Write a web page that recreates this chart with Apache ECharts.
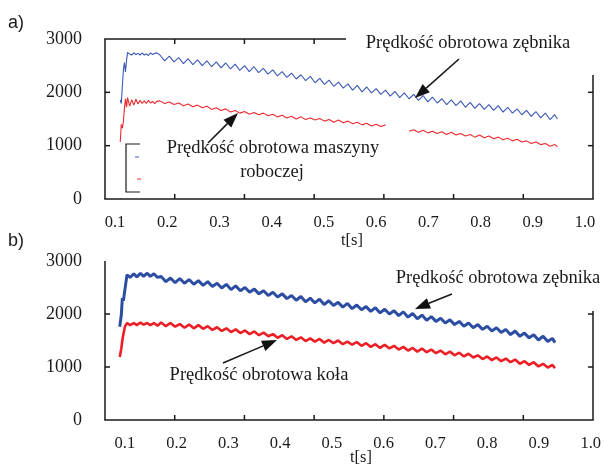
<!DOCTYPE html>
<html>
<head>
<meta charset="utf-8">
<script src="https://cdn.jsdelivr.net/npm/echarts@6/dist/echarts.min.js"></script>
<style>
  html, body { margin: 0; padding: 0; background: #fff; }
  #chart { width: 604px; height: 466px; }
</style>
</head>
<body>
<div id="chart"></div>
<script>
// Panel a) – time base [s]
const timeA = [
  0.110, 0.112, 0.114, 0.116, 0.118, 0.120, 0.122, 0.124, 0.128, 0.132, 0.136,
  0.140, 0.144, 0.148, 0.152, 0.156, 0.160, 0.164, 0.168, 0.172, 0.176, 0.180,
  0.186, 0.195, 0.204, 0.213, 0.222, 0.231, 0.240, 0.249, 0.258, 0.267, 0.276,
  0.285, 0.294, 0.303, 0.312, 0.321, 0.330, 0.339, 0.348, 0.357, 0.366, 0.375,
  0.384, 0.393, 0.402, 0.411, 0.420, 0.429, 0.438, 0.447, 0.456, 0.465, 0.474,
  0.483, 0.492, 0.501, 0.510, 0.519, 0.528, 0.537, 0.546, 0.555, 0.564, 0.573,
  0.582, 0.591, 0.600, 0.609, 0.618, 0.627, 0.636, 0.645, 0.654, 0.663, 0.672,
  0.681, 0.690, 0.699, 0.708, 0.717, 0.726, 0.735, 0.744, 0.753, 0.762, 0.771,
  0.780, 0.789, 0.798, 0.807, 0.816, 0.825, 0.834, 0.843, 0.852, 0.861, 0.870,
  0.879, 0.888, 0.897, 0.906, 0.915, 0.924, 0.933, 0.942, 0.947
];
// Pinion speed [rpm], panel a)
const pinionA = [
  1860, 1790, 2120, 2420, 2560, 2380, 2600, 2750, 2720, 2700, 2740,
  2710, 2730, 2700, 2740, 2700, 2720, 2690, 2740, 2710, 2730, 2740,
  2700, 2590, 2680, 2570, 2650, 2540, 2630, 2520, 2610, 2500, 2590,
  2480, 2570, 2460, 2550, 2440, 2530, 2410, 2500, 2390, 2480, 2370,
  2450, 2340, 2420, 2310, 2390, 2280, 2360, 2250, 2330, 2220, 2300,
  2180, 2260, 2150, 2230, 2110, 2190, 2080, 2160, 2040, 2130, 2010,
  2100, 1990, 2070, 1960, 2040, 1930, 2020, 1900, 1990, 1880, 1960,
  1850, 1940, 1820, 1910, 1800, 1880, 1770, 1860, 1750, 1840, 1720,
  1810, 1700, 1790, 1680, 1770, 1660, 1750, 1630, 1720, 1610, 1690,
  1580, 1660, 1550, 1640, 1520, 1610, 1490, 1580, 1500
];
// Working machine speed [rpm], panel a) (null = missing samples)
const machineA = [
  1070, 1400, 1330, 1450, 1700, 1880, 1720, 1900, 1740, 1860, 1760,
  1870, 1780, 1850, 1790, 1840, 1790, 1850, 1800, 1830, 1790, 1830,
  1840, 1790, 1820, 1770, 1800, 1750, 1780, 1730, 1760, 1710, 1740,
  1680, 1710, 1660, 1690, 1630, 1660, 1610, 1640, 1590, 1620, 1580,
  1610, 1560, 1590, 1540, 1570, 1520, 1550, 1500, 1540, 1490, 1520,
  1480, 1510, 1460, 1490, 1440, 1480, 1430, 1460, 1410, 1440, 1390,
  1420, 1370, 1400, 1360, 1390, null, null, null, null, 1270, 1300,
  1250, 1290, 1240, 1270, 1230, 1260, 1210, 1250, 1200, 1230, 1180,
  1210, 1160, 1200, 1150, 1180, 1130, 1160, 1110, 1140, 1090, 1120,
  1070, 1090, 1040, 1070, 1020, 1040, 990, 1020, 980
];

// Panel b) – time base [s]
const timeB = [
  0.090, 0.093, 0.095, 0.097, 0.100, 0.104, 0.110, 0.117, 0.123, 0.130,
  0.136, 0.143, 0.149, 0.156, 0.163,
  0.170, 0.179, 0.188, 0.197, 0.206, 0.215, 0.224, 0.233, 0.242, 0.251,
  0.260, 0.269, 0.278, 0.287, 0.296, 0.305, 0.314, 0.323, 0.332, 0.341,
  0.350, 0.359, 0.368, 0.377, 0.386, 0.395, 0.404, 0.413, 0.422, 0.431,
  0.440, 0.449, 0.458, 0.467, 0.476, 0.485, 0.494, 0.503, 0.512, 0.521,
  0.530, 0.539, 0.548, 0.557, 0.566, 0.575, 0.584, 0.593, 0.602, 0.611,
  0.620, 0.629, 0.638, 0.647, 0.656, 0.665, 0.674, 0.683, 0.692, 0.701,
  0.710, 0.719, 0.728, 0.737, 0.746, 0.755, 0.764, 0.773, 0.782, 0.791,
  0.800, 0.809, 0.818, 0.827, 0.836, 0.845, 0.854, 0.863, 0.872, 0.881,
  0.890, 0.899, 0.908, 0.917, 0.926, 0.931
];
// Pinion speed [rpm], panel b)
const pinionB = [
  1760, 1980, 2300, 2250, 2460, 2740, 2690, 2760, 2700, 2770,
  2710, 2770, 2710, 2760, 2690,
  2710, 2610, 2680, 2590, 2670, 2580, 2650, 2560, 2630, 2540,
  2610, 2520, 2580, 2490, 2560, 2460, 2530, 2440, 2500, 2410,
  2470, 2380, 2440, 2350, 2410, 2320, 2380, 2290, 2350, 2260,
  2330, 2230, 2300, 2210, 2280, 2180, 2250, 2160, 2220, 2130,
  2200, 2100, 2170, 2080, 2140, 2050, 2120, 2020, 2090, 2000,
  2060, 1970, 2040, 1940, 2010, 1910, 1980, 1880, 1950, 1860,
  1920, 1830, 1890, 1800, 1860, 1770, 1830, 1740, 1800, 1710,
  1770, 1680, 1740, 1650, 1710, 1610, 1680, 1580, 1640, 1550,
  1610, 1510, 1580, 1480, 1540, 1460
];
// Wheel speed [rpm], panel b)
const wheelB = [
  1190, 1350, 1500, 1620, 1760, 1830, 1790, 1830, 1790, 1840,
  1800, 1830, 1790, 1830, 1780,
  1840, 1770, 1830, 1760, 1810, 1740, 1800, 1730, 1790, 1720,
  1770, 1700, 1750, 1680, 1730, 1660, 1710, 1640, 1690, 1620,
  1670, 1600, 1650, 1580, 1620, 1550, 1600, 1530, 1580, 1510,
  1560, 1490, 1540, 1480, 1530, 1460, 1510, 1450, 1500, 1430,
  1480, 1420, 1470, 1400, 1450, 1380, 1430, 1360, 1420, 1350,
  1400, 1330, 1380, 1310, 1360, 1290, 1350, 1280, 1330, 1260,
  1310, 1240, 1290, 1220, 1270, 1200, 1250, 1180, 1220, 1150,
  1200, 1130, 1180, 1110, 1160, 1090, 1140, 1060, 1110, 1040,
  1090, 1010, 1060, 990, 1040, 980
];

// Axis tick labels
const xTickLabels = [0.1, 0.2, 0.3, 0.4, 0.5, 0.6, 0.7, 0.8, 0.9, 1.0];
// Frame tick marks: 7 equal divisions along x, rpm levels along y
const xTickDivisions = 7;
const yTickMarks = [1000, 2000];

const SERIF = '"Liberation Serif", "Times New Roman", serif';
const SANS = '"Liberation Sans", Arial, sans-serif';
const INK = '#1a1a1a';
const BLUE_A = '#3a5ab4';
const RED_A = '#ec2a2e';
const BLUE_B = '#2c4ea2';
const RED_B = '#ec1f26';

// plot rectangles of the two panels
const GRID_A = { left: 105, top: 39, width: 488, height: 160 };
const GRID_B = { left: 105, top: 261, width: 488, height: 159 };
const Y_MAX = 3000;

const pairs = (t, v) => t.map((x, i) => [x, v[i]]);

function mainX(grid, min, max) {
  return {
    gridIndex: grid, type: 'value', position: 'bottom', min, max,
    axisLine: { show: false, onZero: false },
    axisTick: { show: false },
    splitLine: { show: false },
    axisLabel: {
      show: true,
      customValues: xTickLabels.slice(),
      formatter: v => v.toFixed(1),
      fontFamily: SERIF, fontSize: 16.5, color: INK, margin: 15
    }
  };
}
function yAx(grid, padTop) {
  return {
    gridIndex: grid, type: 'value', position: 'left', min: 0, max: Y_MAX, interval: 1000,
    axisLine: { show: false, onZero: false },
    axisTick: { show: false },
    splitLine: { show: false },
    axisLabel: {
      show: true,
      formatter: v => String(v),
      fontFamily: SERIF, fontSize: 18, color: INK, margin: 23,
      padding: [padTop, 0, 0, 0]
    }
  };
}
function line(xi, yi, data, color, width) {
  return {
    type: 'line', xAxisIndex: xi, yAxisIndex: yi, data,
    showSymbol: false, symbol: 'none', connectNulls: false,
    lineStyle: { color, width }, itemStyle: { color }
  };
}

// ---- frame, tick marks and annotations (upper layer) ----
// rectangles are used for the frame strokes so they stay crisp
const bar = (x, y, w, h) => ({
  type: 'rect', zlevel: 1, z: 10, shape: { x, y, width: w, height: h },
  style: { fill: INK }
});
const hSeg = (x1, x2, y) => bar(Math.min(x1, x2), y - 0.75, Math.abs(x2 - x1), 1.5);
const vSeg = (x, y1, y2) => bar(x - 0.75, Math.min(y1, y2), 1.5, Math.abs(y2 - y1));

function frame(g, withTop) {
  const x0 = g.left, x1 = g.left + g.width;
  const y0 = g.top + g.height, y1 = g.top;
  const els = [hSeg(x0 - 0.75, x1 + 0.75, y0), vSeg(x0, y0, y1), vSeg(x1, y0, y1)];
  if (withTop) els.push(hSeg(x0 - 0.75, x1 + 0.75, y1));
  for (let k = 1; k < xTickDivisions; k++) {
    const x = x0 + g.width * k / xTickDivisions;
    els.push(vSeg(x, y0, y0 - 5));
    if (withTop) els.push(vSeg(x, y1, y1 + 5));
  }
  yTickMarks.forEach(v => {
    const y = y0 - g.height * v / Y_MAX;
    els.push(hSeg(x0, x0 + 5, y));
    els.push(hSeg(x1, x1 - 5, y));
  });
  return els;
}

function arrow(x1, y1, x2, y2) {
  const dx = x2 - x1, dy = y2 - y1, len = Math.hypot(dx, dy);
  const ux = dx / len, uy = dy / len, hl = 15, hw = 5.5;
  const bx = x2 - ux * hl, by = y2 - uy * hl;
  return [
    { type: 'line', zlevel: 1, z: 40, shape: { x1, y1, x2: bx, y2: by }, style: { stroke: INK, lineWidth: 1.6 } },
    { type: 'polygon', zlevel: 1, z: 40, shape: { points: [[x2, y2], [bx - uy * hw, by + ux * hw], [bx + uy * hw, by - ux * hw]] }, style: { fill: '#111' } }
  ];
}
function label(text, x, y, size, family, align) {
  return {
    type: 'text', zlevel: 1, z: 40, x, y,
    style: { text, fill: INK, font: `${size}px ${family}`, textAlign: align || 'center', textVerticalAlign: 'middle' }
  };
}

const chart = echarts.init(document.getElementById('chart'), null, { renderer: 'canvas' });

chart.setOption({
  animation: false,
  grid: [GRID_A, GRID_B].map(g => Object.assign({}, g)),
  xAxis: [mainX(0, 0.0808, 1.0153), mainX(1, 0.0615, 1.0006)],
  yAxis: [yAx(0, 7), yAx(1, 5)],
  series: [
    line(0, 0, pairs(timeA, pinionA), BLUE_A, 1.1),
    line(0, 0, pairs(timeA, machineA), RED_A, 1.1),
    line(1, 1, pairs(timeB, pinionB), BLUE_B, 3),
    line(1, 1, pairs(timeB, wheelB), RED_B, 2.6)
  ],
  graphic: {
    elements: [
      ...frame(GRID_A, true),
      ...frame(GRID_B, false),
      // background boxes of the annotations
      { type: 'rect', zlevel: 1, z: 20, shape: { x: 346, y: 22, width: 258, height: 53 }, style: { fill: '#fff' } },
      { type: 'rect', zlevel: 1, z: 20, shape: { x: 560, y: 250, width: 44, height: 61 }, style: { fill: '#fff' } },
      // legend frame remainder in panel a)
      { type: 'polyline', zlevel: 1, z: 30, shape: { points: [[140, 144], [126, 144], [126, 192], [140, 192]] }, style: { stroke: INK, lineWidth: 1.2, fill: null } },
      { type: 'line', zlevel: 1, z: 30, shape: { x1: 135, y1: 157, x2: 139, y2: 157 }, style: { stroke: BLUE_A, lineWidth: 1 } },
      { type: 'line', zlevel: 1, z: 30, shape: { x1: 137, y1: 179, x2: 141, y2: 179 }, style: { stroke: RED_A, lineWidth: 1 } },
      // panel captions
      label('a)', 8, 23, 18, SANS, 'left'),
      label('b)', 8, 241, 18, SANS, 'left'),
      label('t[s]', 352, 241, 16.5, SERIF),
      label('t[s]', 361, 458, 16.5, SERIF),
      // annotations
      label('Prędkość obrotowa zębnika', 468, 43, 18.5, SERIF),
      label('Prędkość obrotowa maszyny', 273, 148, 18.5, SERIF),
      label('roboczej', 272, 172, 18.5, SERIF),
      label('Prędkość obrotowa zębnika', 498, 278, 18.5, SERIF),
      label('Prędkość obrotowa koła', 259, 375, 18.5, SERIF),
      ...arrow(459, 59, 415, 98),
      ...arrow(208, 143, 238, 113),
      ...arrow(452, 294, 415, 309),
      ...arrow(223, 363, 277, 340)
    ]
  }
});
</script>
</body>
</html>
